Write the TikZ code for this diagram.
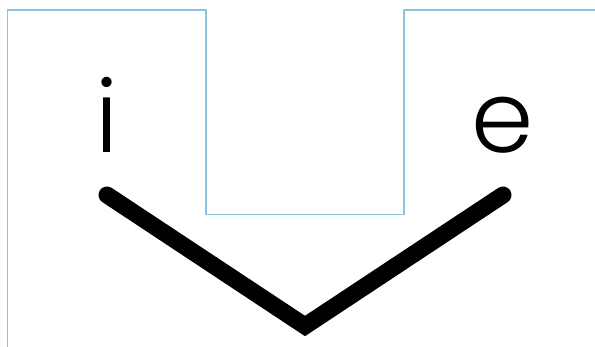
\documentclass[tikz,border=0pt]{standalone}
\usepackage{fontspec}
\IfFontExistsTF{Poppins Light}{\setmainfont{Poppins Light}}{\IfFontExistsTF{Poppins-Light}{\setmainfont{Poppins-Light}}{\setmainfont{Poppins}}}
\begin{document}
\begin{tikzpicture}[x=1pt,y=1pt,
  wall/.style={draw={rgb,255:red,140;green,195;blue,225},line width=1.2pt},
  vee/.style={draw=black,line width=17pt,line cap=round,line join=miter},
  letter/.style={font=\fontsize{100}{100}\selectfont,inner sep=0pt}]
\useasboundingbox (0,0) rectangle (595,347);
\draw[wall] (7.5,0) -- (7.5,337) -- (206,337) -- (206,132.5) -- (404,132.5) -- (404,337) -- (595,337);
\coordinate (vl) at (107,152);
\coordinate (vm) at (305,21);
\coordinate (vr) at (503,152);
\draw[vee] (vl) -- (vm) -- (vr);
\node[letter,anchor=base] (i) at (107,194) {i};
\node[letter,anchor=base] (e) at (503,194) {e};
\end{tikzpicture}
\end{document}
